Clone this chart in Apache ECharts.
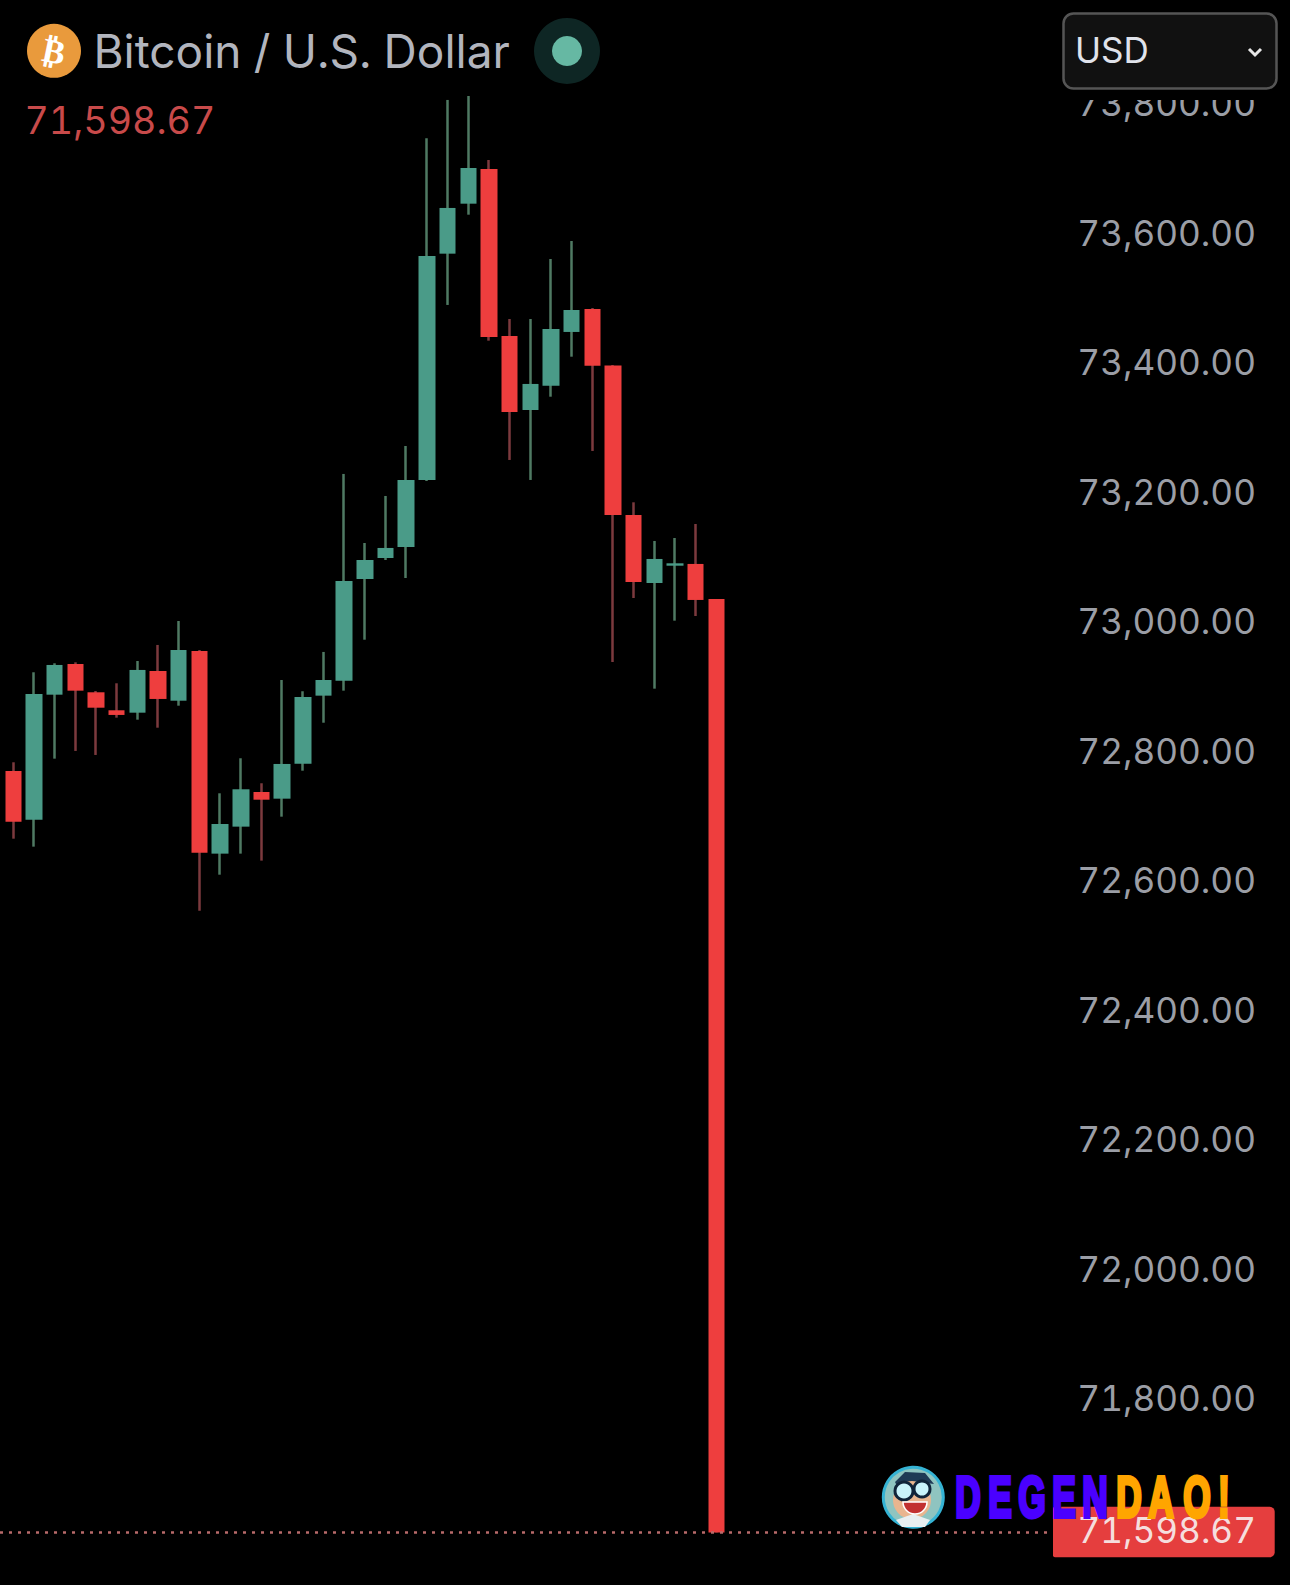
<!DOCTYPE html>
<html><head><meta charset="utf-8">
<style>html,body{margin:0;padding:0;background:#000}#c{width:1290px;height:1585px}
svg text{font-variant-numeric:tabular-nums;font-feature-settings:'tnum' 1}</style>
<script src="https://cdn.jsdelivr.net/npm/echarts@6/dist/echarts.min.js"></script>
</head><body><div id="c"></div>
<script>
const title = 'Bitcoin / U.S. Dollar';
const currency = 'USD';
const lastPrice = 71598.67;
const categories = ['1','2','3','4','5','6','7','8','9','10','11','12','13','14','15','16','17','18','19','20','21','22','23','24','25','26','27','28','29','30','31','32','33','34','35'];
const opens  = [72774.8,72699.5,72892.6,72940.0,72896.3,72868.5,72864.8,72929.2,72883.3,72960.1,72647.1,72688.8,72742.3,72732.0,72786.0,72891.1,72914.2,73071.3,73103.7,73120.7,73224.2,73573.7,73650.9,73704.5,73446.6,73332.3,73369.8,73452.8,73488.3,73401.0,73170.1,73065.1,73091.8,73094.5,73040.4];
const closes = [72696.4,72893.7,72938.5,72898.8,72872.5,72861.3,72930.8,72886.0,72961.6,72648.6,72692.9,72746.5,72730.4,72785.6,72889.1,72915.3,73068.2,73100.6,73119.2,73224.2,73570.1,73644.3,73706.0,73445.0,73329.2,73372.5,73457.4,73486.7,73400.7,73170.1,73066.7,73102.2,73095.5,73038.9,71598.67];
const lows   = [72670.2,72657.9,72793.8,72805.7,72799.5,72857.1,72854.0,72841.6,72875.6,72559.0,72614.6,72647.1,72636.3,72704.2,72775.2,72849.3,72898.8,72977.5,73100.6,73072.8,73222.6,73494.5,73633.9,73439.3,73255.1,73224.2,73352.8,73414.6,73269.0,72943.1,73041.9,72901.9,73006.9,73014.1,71598.67];
const highs  = [72788.2,72927.2,72941.1,72942.6,72898.3,72910.2,72944.6,72969.4,73006.4,72961.6,72740.3,72794.4,72755.8,72915.3,72897.9,72958.6,73233.5,73126.9,73199.5,73276.7,73751.9,73811.1,73817.2,73718.4,73472.8,73472.8,73565.5,73593.3,73489.8,73401.8,73189.7,73130.0,73134.6,73156.2,73040.4];

const UP='#4a9b88', DOWN='#ee3e3e', UPW='#4f7a63', DOWNW='#7c3a3e';
const fmt = v => v.toLocaleString('en-US',{minimumFractionDigits:2,maximumFractionDigits:2});
const xCats = categories.concat(Array.from({length:25},(_,i)=>'+'+(i+1)));
const FONT='Inter';

function letter(ch,cx,col){
  return {type:'text',z:60,x:cx,y:1497.5,scaleX:.62,scaleY:1,originX:0,originY:0,
    style:{text:ch,fontFamily:'Liberation Sans',fontWeight:'bold',fontSize:57,fill:col,stroke:col,lineWidth:4,align:'center',verticalAlign:'middle'}};
}
const g=[
 {type:'rect',z:50,shape:{x:1040,y:0,width:250,height:100},style:{fill:'#000'}},
 {type:'circle',z:51,shape:{cx:54,cy:50.8,r:27},style:{fill:'#e99a3c'}},
 {type:'text',z:52,x:54,y:51,rotation:-0.2,originX:0,originY:0,style:{text:'₿',fontFamily:'DejaVu Sans',fontWeight:'bold',fontSize:34,fill:'#fff',align:'center',verticalAlign:'middle'}},
 {type:'text',z:51,x:93.5,y:50.5,style:{text:title,fontFamily:FONT,fontSize:46,fill:'#b2b5be',verticalAlign:'middle'}},
 {type:'text',z:51,x:24.5,y:120.5,style:{text:fmt(lastPrice),fontFamily:FONT,fontSize:37.6,fill:'#c84a4a',verticalAlign:'middle'}},
 {type:'circle',z:51,shape:{cx:567,cy:51,r:33},style:{fill:'#0e2624'}},
 {type:'circle',z:52,shape:{cx:567,cy:51,r:15},style:{fill:'#66b8a3'}},
 {type:'rect',z:51,shape:{x:1063.5,y:13.5,width:213,height:75,r:10},style:{fill:'#111',stroke:'#555',lineWidth:2.5}},
 {type:'text',z:52,x:1075,y:50,style:{text:currency,fontFamily:FONT,fontSize:35,fill:'#e0e3eb',verticalAlign:'middle'}},
 {type:'polyline',z:52,shape:{points:[[1249,49],[1255,55],[1261,49]]},style:{stroke:'#e8e8e8',lineWidth:3,fill:'none'}},
 {type:'rect',z:53,shape:{x:1053,y:1506.7,width:221.7,height:50.6,r:[2,5,5,2]},style:{fill:'#e53e3e'}},
 {type:'text',z:54,x:1256,y:1530,style:{text:fmt(lastPrice),fontFamily:FONT,fontSize:35.2,fill:'#f5dede',align:'right',verticalAlign:'middle'}},
 // avatar
 {type:'circle',z:55,shape:{cx:913.3,cy:1497.3,r:30},style:{fill:'#8fc4c0',stroke:'#35b3d4',lineWidth:3}},
 {type:'polygon',z:56,shape:{points:[[895,1482],[905,1472],[925,1473],[934,1484],[918,1482],[900,1492]]},style:{fill:'#1f3a55'}},
 {type:'sector',z:56,shape:{cx:912,cy:1500,r0:0,r:19,startAngle:0,endAngle:Math.PI*2},style:{fill:'#e9b58f'}},
 {type:'polygon',z:57,shape:{points:[[896,1520],[913,1514],[930,1520],[925,1527],[902,1527]]},style:{fill:'#e8eef0'}},
 {type:'circle',z:57,shape:{cx:904,cy:1491,r:9},style:{fill:'#c9f3fb',stroke:'#10243a',lineWidth:3}},
 {type:'circle',z:57,shape:{cx:922,cy:1489,r:8},style:{fill:'#c9f3fb',stroke:'#10243a',lineWidth:3}},
 {type:'sector',z:57,shape:{cx:915,cy:1502,r0:0,r:12,startAngle:0,endAngle:Math.PI},style:{fill:'#c23030',stroke:'#fff',lineWidth:1.5}},
 // wordmark
 letter('D',968,'#4a00ff'),letter('E',1000,'#4a00ff'),letter('G',1032,'#4a00ff'),letter('E',1064,'#4a00ff'),letter('N',1095,'#4a00ff'),
 letter('D',1129,'#ffa500'),letter('A',1161,'#ffa500'),letter('O',1197,'#ffa500'),letter('!',1224,'#ffa500')
];

const chart=echarts.init(document.getElementById('c'),null,{renderer:'svg'});
chart.setOption({
 animation:false,backgroundColor:'#000',
 grid:{left:2.96,top:42.39,width:1240.8,height:1489.25,containLabel:false},
 xAxis:{type:'category',data:xCats,show:false,boundaryGap:true},
 yAxis:{type:'value',position:'right',min:71600,max:73900,interval:200,scale:true,
  axisLine:{show:false},axisTick:{show:false},splitLine:{show:false},
  axisLabel:{show:true,showMinLabel:false,showMaxLabel:false,align:'right',verticalAlign:'bottom',lineHeight:8,margin:12.2,fontFamily:FONT,fontSize:35.2,color:'#9b9ea6',formatter:v=>fmt(v)}},
 graphic:{elements:g},
 series:[
  {type:'candlestick',name:'wick',clip:false,barWidth:1,z:2,silent:true,
   data:categories.map((_,i)=>[opens[i],closes[i],lows[i],highs[i]]),
   itemStyle:{color:UPW,color0:DOWNW,borderColor:UPW,borderColor0:DOWNW,borderWidth:2.5},
   markLine:{silent:true,symbol:'none',label:{show:false},lineStyle:{color:'#b86a6a',type:[3,6],width:2.5},
     data:[[{x:0,yAxis:lastPrice},{x:1047,yAxis:lastPrice}]]}},
  {type:'candlestick',name:'body',clip:false,barWidth:17,z:3,silent:true,
   data:categories.map((_,i)=>[opens[i],closes[i],Math.min(opens[i],closes[i]),Math.max(opens[i],closes[i])]),
   itemStyle:{color:UP,color0:DOWN,borderColor:UP,borderColor0:DOWN,borderWidth:0}}
 ]
});
</script></body></html>
